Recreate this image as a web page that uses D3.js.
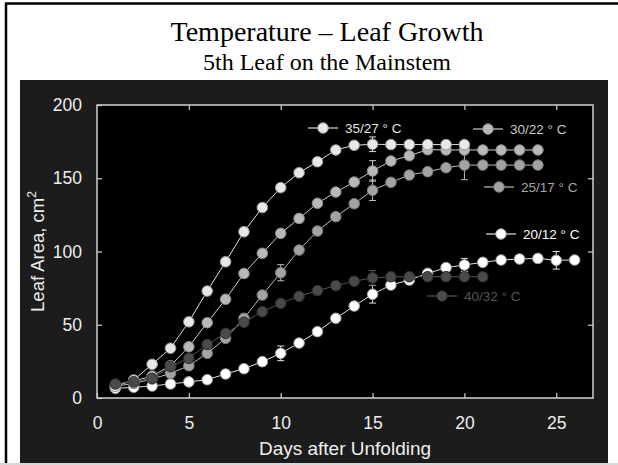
<!DOCTYPE html>
<html>
<head>
<meta charset="utf-8">
<script src="https://cdnjs.cloudflare.com/ajax/libs/d3/7.8.5/d3.min.js"></script>
<style>
  body { margin: 0; background: #fff; }
  svg { display: block; }
</style>
</head>
<body>
<svg id="chart" width="618" height="465"></svg>
<script>
// Leaf area (cm2) by day after unfolding, one array per temperature regime
const labels = ["20/12 ° C", "25/17 ° C", "30/22 ° C", "35/27 ° C", "40/32 ° C"];
const area20 = [6.6, 7.3, 8.2, 9.6, 11, 12.5, 16.4, 20, 24.8, 30.5, 37.5, 45.3, 54.4, 62.8, 70.8, 77.1, 80.5, 85.1, 89, 90.8, 92.6, 94.2, 94.9, 95.3, 94, 94.2];
const area25 = [8, 10, 13, 16.8, 22, 30.5, 40.7, 54.4, 70.3, 85.5, 101, 114, 123.8, 132.6, 141.8, 147.2, 152.2, 154.5, 157.2, 159, 159, 159, 159, 159];
const area30 = [9, 11.5, 15, 22, 35, 51.4, 67.4, 85, 98.8, 112.4, 122.6, 132.9, 140.6, 147.4, 155, 161.8, 165.4, 169.5, 169.3, 169.3, 169.3, 169.3, 169.3, 169.3];
const area35 = [8, 12.3, 23, 34, 52, 73, 93, 113.5, 130, 143.6, 153.8, 161.3, 169.3, 172.5, 173.2, 173, 173, 173, 173, 173];
const area40 = [9.6, 11.1, 13.4, 21.4, 27.1, 36.6, 44.1, 51.7, 58.9, 64.6, 69.4, 73.3, 76.7, 79.7, 82, 82.8, 82.8, 82.8, 82.8, 82.8, 82.8];
// error bars: [day, half-width]
const err20 = [[10, 5], [15, 6], [20, 4.5], [25, 6]];
const err25 = [[10, 5.5], [15, 7], [20, 10]];
const err30 = [[15, 7]];
const err35 = [[15, 5]];
const err40 = [[15, 5]];
const xTicks = [0, 5, 10, 15, 20, 25];
const yTicks = [0, 50, 100, 150, 200];

const svg = d3.select("#chart");

// page frame
svg.append("line").attr("x1", 5).attr("x2", 618).attr("y1", 3.5).attr("y2", 3.5)
    .attr("stroke", "#000").attr("stroke-width", 2.5);
svg.append("line").attr("x1", 6).attr("x2", 6).attr("y1", 3).attr("y2", 465)
    .attr("stroke", "#000").attr("stroke-width", 2.5);
svg.append("rect").attr("x", 0).attr("y", 463).attr("width", 618).attr("height", 2)
    .attr("fill", "#d8d8d8");

// titles
svg.append("text").attr("x", 327).attr("y", 40.5).attr("text-anchor", "middle")
    .style("font-family", "'Liberation Serif', 'Times New Roman', serif").style("font-size", "28px")
    .text("Temperature – Leaf Growth");
svg.append("text").attr("x", 327).attr("y", 70).attr("text-anchor", "middle")
    .style("font-family", "'Liberation Serif', 'Times New Roman', serif").style("font-size", "24px")
    .text("5th Leaf on the Mainstem");

// dark panel
svg.append("rect").attr("x", 20).attr("y", 80).attr("width", 588).attr("height", 383)
    .attr("fill", "#1c1c1c");

const plot = {left: 97, right: 593, top: 105, bottom: 398};
const x = d3.scaleLinear().domain([0, 27]).range([plot.left, plot.right]);
const y = d3.scaleLinear().domain([0, 200]).range([plot.bottom, plot.top]);

svg.append("rect").attr("x", plot.left).attr("y", plot.top)
    .attr("width", plot.right - plot.left).attr("height", plot.bottom - plot.top)
    .attr("fill", "#000");

// axes, ticks inside the box
const axisColor = "#d0d0d0";
function styleAxis(g) {
  g.select(".domain").remove();
  g.selectAll("line").attr("stroke", axisColor).attr("stroke-width", 1.2);
  g.selectAll("text").attr("fill", "#eee")
      .style("font-family", "Arial, 'Liberation Sans', sans-serif").style("font-size", "17.5px");
}
svg.append("g").attr("transform", `translate(0,${plot.bottom})`)
    .call(d3.axisBottom(x).tickValues(xTicks).tickSizeInner(-5).tickSizeOuter(0).tickPadding(19))
    .call(styleAxis);
svg.append("g").attr("transform", `translate(${plot.left},0)`)
    .call(d3.axisLeft(y).tickValues(yTicks).tickSizeInner(-5).tickSizeOuter(0).tickPadding(15))
    .call(styleAxis);
svg.append("g").attr("transform", `translate(0,${plot.top})`)
    .call(d3.axisTop(x).tickValues(xTicks.slice(1)).tickSizeInner(-5).tickSizeOuter(0).tickFormat(""))
    .call(styleAxis);
svg.append("g").attr("transform", `translate(${plot.right},0)`)
    .call(d3.axisRight(y).tickValues(yTicks.slice(1, 4)).tickSizeInner(-5).tickSizeOuter(0).tickFormat(""))
    .call(styleAxis);
svg.append("rect").attr("x", plot.left).attr("y", plot.top)
    .attr("width", plot.right - plot.left).attr("height", plot.bottom - plot.top)
    .attr("fill", "none").attr("stroke", axisColor).attr("stroke-width", 1.5);

// axis titles
svg.append("text").attr("x", (plot.left + plot.right) / 2).attr("y", 455).attr("text-anchor", "middle")
    .attr("fill", "#eee").style("font-family", "Arial, 'Liberation Sans', sans-serif").style("font-size", "19px")
    .text("Days after Unfolding");
const yt = svg.append("text").attr("transform", `translate(44,${(plot.top + plot.bottom) / 2}) rotate(-90)`)
    .attr("text-anchor", "middle").attr("fill", "#eee")
    .style("font-family", "Arial, 'Liberation Sans', sans-serif").style("font-size", "18.5px");
yt.append("tspan").text("Leaf Area, cm");
yt.append("tspan").attr("dy", -8).style("font-size", "12px").text("2");

// series, drawn back to front
const series = [
  {label: labels[0], values: area20, err: err20, fill: "#ffffff", stroke: "#9a9a9a", line: "#e0e0e0", text: "#ffffff", lx: 501, ly: 234},
  {label: labels[1], values: area25, err: err25, fill: "#a3a3a3", stroke: "#777", line: "#bbbbbb", text: "#a8a8a8", lx: 499, ly: 187},
  {label: labels[2], values: area30, err: err30, fill: "#b9b9b9", stroke: "#888", line: "#cccccc", text: "#c8c8c8", lx: 488, ly: 129},
  {label: labels[3], values: area35, err: err35, fill: "#e8e8e8", stroke: "#999", line: "#dddddd", text: "#e4e4e4", lx: 323, ly: 128},
  {label: labels[4], values: area40, err: err40, fill: "#4a4a4a", stroke: "#2e2e2e", line: "#555555", text: "#555555", lx: 442, ly: 296}
];

const line = d3.line().x((d, i) => x(i + 1)).y(d => y(d));
const r = 5.3;

series.forEach(s => {
  const g = svg.append("g");
  g.append("path").attr("d", line(s.values)).attr("fill", "none")
      .attr("stroke", s.line).attr("stroke-width", 1);
  s.err.forEach(([day, e]) => {
    const v = s.values[day - 1];
    const eg = g.append("g").attr("stroke", s.line).attr("stroke-width", 1);
    eg.append("line").attr("x1", x(day)).attr("x2", x(day)).attr("y1", y(v - e)).attr("y2", y(v + e));
    [v - e, v + e].forEach(t => eg.append("line")
        .attr("x1", x(day) - 3.5).attr("x2", x(day) + 3.5).attr("y1", y(t)).attr("y2", y(t)));
  });
  g.selectAll("circle").data(s.values).enter().append("circle")
      .attr("cx", (d, i) => x(i + 1)).attr("cy", d => y(d)).attr("r", r)
      .attr("fill", s.fill).attr("stroke", s.stroke).attr("stroke-width", 1);

  // legend entry
  const lg = svg.append("g");
  lg.append("line").attr("x1", s.lx - 15).attr("x2", s.lx + 15).attr("y1", s.ly).attr("y2", s.ly)
      .attr("stroke", s.line).attr("stroke-width", 1.2);
  lg.append("circle").attr("cx", s.lx).attr("cy", s.ly).attr("r", r)
      .attr("fill", s.fill).attr("stroke", s.stroke);
  lg.append("text").attr("x", s.lx + 22).attr("y", s.ly + 5).attr("fill", s.text)
      .style("font-family", "Arial, 'Liberation Sans', sans-serif").style("font-size", "13.5px")
      .text(s.label);
});
</script>
</body>
</html>
